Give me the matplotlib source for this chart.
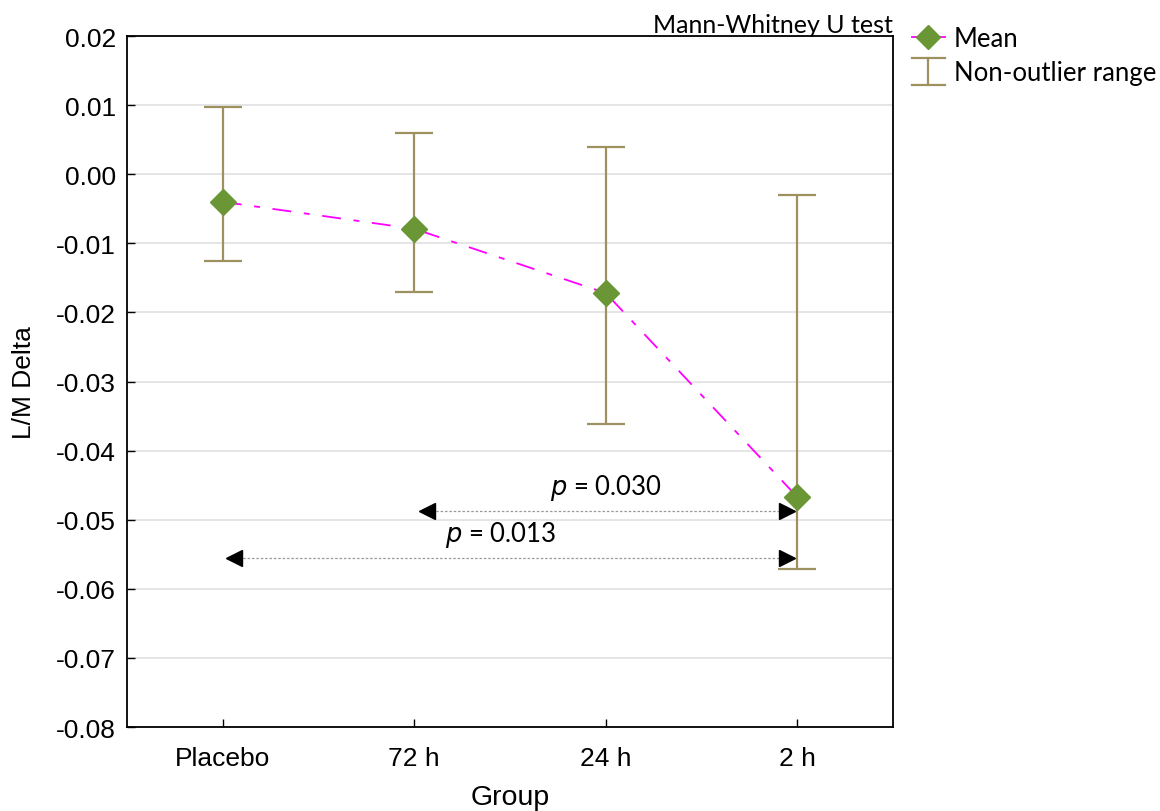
import matplotlib
matplotlib.use("Agg")
import matplotlib.pyplot as plt
from matplotlib.lines import Line2D
from matplotlib.legend_handler import HandlerBase
import numpy as np

plt.rcParams['axes.unicode_minus'] = False

# data
groups = ["Placebo", "72 h", "24 h", "2 h"]
means = [-0.0040, -0.0079, -0.0172, -0.0467]
upper = [0.0097, 0.0060, 0.0040, -0.0030]
lower = [-0.0126, -0.0170, -0.0361, -0.0571]
yticks = [-0.08, -0.07, -0.06, -0.05, -0.04, -0.03, -0.02, -0.01, 0.0, 0.01, 0.02]

# comparisons: arrow ends (in group units), y level, p value, label position
comp_start = [1.069, 0.057]
comp_end = [2.947, 2.947]
comp_y = [-0.0487, -0.0555]
comp_p = ["0.030", "0.013"]
comp_text_x = [2.0, 1.45]
comp_text_y = [-0.0453, -0.0520]

green = "#6B9636"
khaki = "#9E9160"
magenta = "#FF00FF"
tick_font = "Liberation Sans"
note_font = "Lato"


class HandlerRange(HandlerBase):
    # I-shaped symbol for the range entry
    def create_artists(self, legend, orig_handle, xdescent, ydescent,
                       width, height, fontsize, trans):
        cx = width / 2 - xdescent
        top = height * 1.2
        bot = -height * 0.3
        w = width * 0.5
        arts = [Line2D([cx, cx], [bot, top]),
                Line2D([cx - w, cx + w], [top, top]),
                Line2D([cx - w, cx + w], [bot, bot])]
        for a in arts:
            a.set_color(khaki)
            a.set_linewidth(1.6)
            a.set_transform(trans)
        return arts


fig = plt.figure(figsize=(11.6, 8.12), dpi=100)
ax = fig.add_axes([0.1095, 0.1034, 0.6603, 0.851])

x = np.arange(len(groups))
m = np.array(means)
yerr = [m - np.array(lower), np.array(upper) - m]

ax.errorbar(x, m, yerr=yerr, fmt='none', ecolor=khaki, elinewidth=1.6,
            capsize=14, capthick=1.6, zorder=2)
ax.plot(x, m, color=magenta, lw=1.3, dashes=(10.5, 7, 3.3, 7), zorder=3)
ax.plot(x, m, ls='none', marker='D', ms=13, color=green, mec=green, zorder=4)

# comparison arrows
for xs, xe, yv, p, tx, ty in zip(comp_start, comp_end, comp_y, comp_p, comp_text_x, comp_text_y):
    ax.plot([xs, xe], [yv, yv], color='#999999', lw=0.9, ls=(0, (2, 1.5)), zorder=2)
    ax.plot([xs], [yv], marker='<', ms=11, color='black', ls='none', zorder=5)
    ax.plot([xe], [yv], marker='>', ms=11, color='black', ls='none', zorder=5)
    ax.text(tx, ty, r"$\it{p}$" + " = " + p, ha='center', va='center',
            fontsize=18.5, family=note_font)

ax.set_xlim(-0.5, 3.5)
ax.set_ylim(-0.08, 0.02)
ax.set_yticks(yticks)
ax.set_yticklabels(["%.2f" % (round(v, 2) + 0.0) for v in yticks])
ax.set_xticks(x)
ax.set_xticklabels(groups)
ax.tick_params(direction='in', length=6, width=1, pad=14, labelsize=19)
ax.tick_params(axis='y', pad=8)
for lab in ax.get_xticklabels() + ax.get_yticklabels():
    lab.set_family(tick_font)

ax.grid(axis='y', color='#E0E0E0', lw=1.2, zorder=0)
ax.set_axisbelow(True)
for s in ax.spines.values():
    s.set_linewidth(1.3)

ax.set_xlabel("Group", fontsize=20.5, family=tick_font, labelpad=10)
ax.set_ylabel("L/M Delta", fontsize=19, family=tick_font, labelpad=14)

fig.text(0.7698, 0.968, "Mann-Whitney U test", ha='right', va='center',
         fontsize=18, family=note_font)

h_mean = Line2D([0], [0], color=magenta, lw=1.3, marker='D', ms=12,
                markerfacecolor=green, markeredgecolor=green)
h_range = Line2D([0], [0], color=khaki)
leg = fig.legend([h_mean, h_range], ["Mean", "Non-outlier range"],
                 loc='upper left', bbox_to_anchor=(0.777, 0.98),
                 frameon=False, prop={'family': note_font, 'size': 18.5},
                 handlelength=1.3, handletextpad=0.35, labelspacing=0.35,
                 borderaxespad=0, handler_map={h_range: HandlerRange()})

fig.savefig("out.png", dpi=100)
